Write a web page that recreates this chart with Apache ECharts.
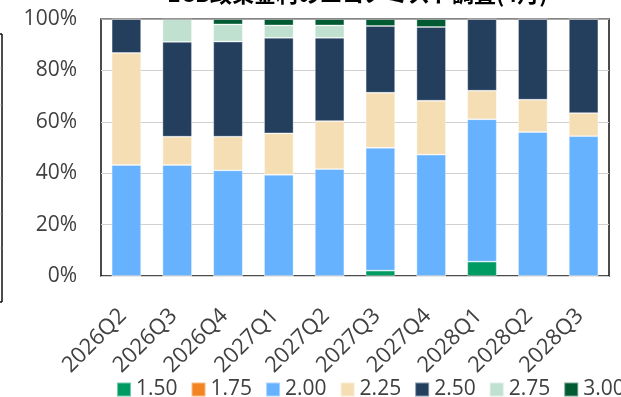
<!DOCTYPE html>
<html>
<head>
<meta charset="utf-8">
<script src="https://cdn.jsdelivr.net/npm/echarts@6/dist/echarts.min.js"></script>
<style>
  html, body { margin: 0; padding: 0; background: #fff; }
  #chart { width: 621px; height: 397px; }
</style>
</head>
<body>
<div id="chart"></div>
<script>
// Quarters surveyed
const categories = ['2026Q2', '2026Q3', '2026Q4', '2027Q1', '2027Q2', '2027Q3', '2027Q4', '2028Q1', '2028Q2', '2028Q3'];

// Share of economists (%) expecting each policy rate level
const rate150 = [0, 0, 0, 0, 0, 2.1, 0, 5.6, 0, 0];
const rate175 = [0, 0, 0, 0, 0, 0, 0, 0, 0, 0];
const rate200 = [43.2, 43.2, 41.1, 39.4, 41.6, 47.8, 47.2, 55.4, 56.0, 54.4];
const rate225 = [43.6, 11.0, 13.1, 16.1, 18.7, 21.4, 21.0, 11.1, 12.6, 9.0];
const rate250 = [13.2, 36.9, 37.0, 37.2, 32.4, 26.0, 28.7, 27.9, 31.4, 36.6];
const rate275 = [0, 8.9, 6.7, 4.8, 4.8, 0, 0, 0, 0, 0];
const rate300 = [0, 0, 2.1, 2.5, 2.5, 2.7, 3.1, 0, 0, 0];

const yTicks = { min: 0, max: 100, step: 20 };

const seriesDefs = [
  { name: '1.50', data: rate150, color: '#009B63' },
  { name: '1.75', data: rate175, color: '#F28522' },
  { name: '2.00', data: rate200, color: '#66B2FF' },
  { name: '2.25', data: rate225, color: '#F5DEB3' },
  { name: '2.50', data: rate250, color: '#243F5E' },
  { name: '2.75', data: rate275, color: '#C0E0D0' },
  { name: '3.00', data: rate300, color: '#005A32' }
];

const FONT = "'Open Sans', 'Noto Sans', sans-serif";

const chart = echarts.init(document.getElementById('chart'), null, { renderer: 'canvas' });

chart.setOption({
  animation: false,
  backgroundColor: '#ffffff',
  title: {
    text: 'ECB政策金利のエコノミスト調査(4月)',
    left: 167,
    top: -17,
    padding: 0,
    textStyle: { fontFamily: "'Noto Sans CJK JP', sans-serif", fontSize: 22, fontWeight: 'bold', color: '#000' }
  },
  grid: {
    left: 101, right: 12, top: 19, bottom: 121,
    show: true, borderColor: '#111', borderWidth: 1.5, backgroundColor: 'transparent'
  },
  legend: {
    left: 116, top: 379, width: 900, padding: 0,
    itemWidth: 14, itemHeight: 14, itemGap: 13,
    icon: 'rect',
    textStyle: { fontFamily: FONT, fontSize: 21, color: '#404040' },
    data: seriesDefs.map(s => s.name)
  },
  xAxis: {
    type: 'category',
    data: categories,
    axisLine: { show: false },
    axisTick: { show: false },
    axisLabel: {
      rotate: 45, margin: 33, interval: 0,
      padding: [0, 5, 0, 0],
      fontFamily: FONT, fontSize: 22, color: '#404040'
    }
  },
  yAxis: {
    type: 'value',
    min: yTicks.min, max: yTicks.max, interval: yTicks.step,
    axisLine: { show: false },
    axisTick: { show: false },
    splitLine: { lineStyle: { color: '#d0d0d0', width: 1.2 } },
    axisLabel: {
      formatter: '{value}%', margin: 24,
      fontFamily: FONT, fontSize: 21, color: '#404040'
    }
  },
  series: seriesDefs.map(s => ({
    name: s.name,
    type: 'bar',
    stack: 'rates',
    barWidth: '58%',
    data: s.data,
    itemStyle: { color: s.color, borderColor: 'rgba(255,255,255,0.45)', borderWidth: 0.8 },
    emphasis: { disabled: true }
  })),
  graphic: [
    // top edge of the plot frame is lighter
    { type: 'line', z: 100, shape: { x1: 101, y1: 19, x2: 609, y2: 19 }, style: { stroke: '#9a9a9a', lineWidth: 1.5 } },
    // frame edge of the neighbouring panel on the far left
    { type: 'line', z: 100, shape: { x1: 2, y1: 34, x2: 2, y2: 302 }, style: { stroke: '#111', lineWidth: 1.5 } },
    { type: 'line', z: 100, shape: { x1: 0, y1: 34, x2: 2, y2: 34 }, style: { stroke: '#111', lineWidth: 1.5 } },
    { type: 'line', z: 100, shape: { x1: 0, y1: 302, x2: 2, y2: 302 }, style: { stroke: '#111', lineWidth: 1.5 } },
    { type: 'line', z: 100, shape: { x1: 0, y1: 68, x2: 1.5, y2: 68 }, style: { stroke: '#c8c8c8', lineWidth: 1 } },
    { type: 'line', z: 100, shape: { x1: 0, y1: 105, x2: 1.5, y2: 105 }, style: { stroke: '#c8c8c8', lineWidth: 1 } },
    { type: 'line', z: 100, shape: { x1: 0, y1: 178, x2: 1.5, y2: 178 }, style: { stroke: '#c8c8c8', lineWidth: 1 } },
    { type: 'line', z: 100, shape: { x1: 0, y1: 214, x2: 1.5, y2: 214 }, style: { stroke: '#c8c8c8', lineWidth: 1 } },
    { type: 'line', z: 100, shape: { x1: 0, y1: 248, x2: 1.5, y2: 248 }, style: { stroke: '#c8c8c8', lineWidth: 1 } }
  ]
});
</script>
</body>
</html>
